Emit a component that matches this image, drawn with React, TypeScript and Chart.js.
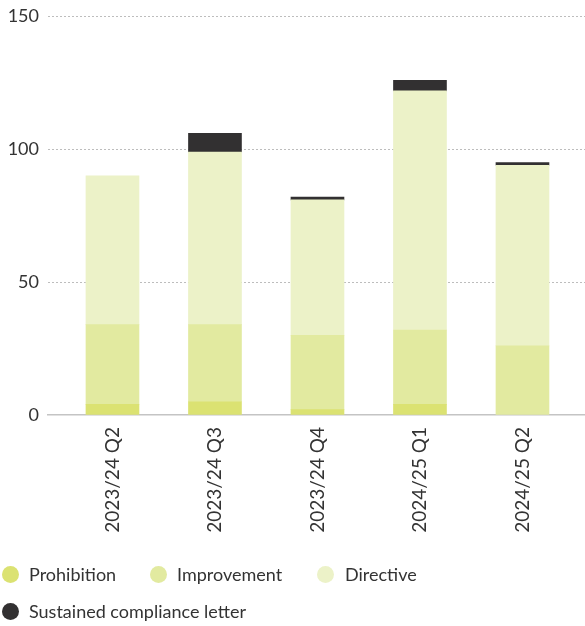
import React, { useEffect, useRef } from 'react';
import { Chart, registerables } from 'chart.js';

Chart.register(...registerables);

const categories = ['2023/24 Q2', '2023/24 Q3', '2023/24 Q4', '2024/25 Q1', '2024/25 Q2'];
const prohibition = [4, 5, 2, 4, 0];
const improvement = [30, 29, 28, 28, 26];
const directive = [56, 65, 51, 90, 68];
const sustainedLetter = [0, 7, 1, 4, 1];
const yTicks = [0, 50, 100, 150];
const seriesNames = ['Prohibition', 'Improvement', 'Directive', 'Sustained compliance letter'];
const seriesColors = ['#dbe272', '#e2eaa0', '#ecf2c8', '#323031'];

// legend layout (circle centre x, centre y, text left x)
const legendLayout = [
  [10, 574, 29],
  [158, 574, 177],
  [325.5, 574, 345],
  [10, 611, 29],
];

const FONT = 'Lato, "Open Sans", sans-serif';
const TEXT = '#333333';

export default function App() {
  const ref = useRef<HTMLCanvasElement>(null);

  useEffect(() => {
    document.body.style.margin = '0';
    const canvas = ref.current;
    if (!canvas) return;
    const series = [prohibition, improvement, directive, sustainedLetter];
    const chart = new Chart(canvas, {
      type: 'bar',
      data: {
        datasets: series.map((vals, k) => ({
          label: seriesNames[k],
          data: vals.map((v, i) => ({ x: i, y: v === 0 ? null : v })),
          backgroundColor: seriesColors[k],
          borderWidth: 0,
          barThickness: 53,
        })),
      },
      options: {
        animation: false,
        responsive: false,
        maintainAspectRatio: false,
        layout: { padding: { top: 16.5, bottom: 91, left: 0, right: 0 } },
        plugins: { legend: { display: false }, tooltip: { enabled: false } },
        scales: {
          x: {
            type: 'linear',
            stacked: true,
            offset: false,
            min: -0.629,
            max: 4.61,
            grid: { display: false, drawTicks: false, offset: false },
            border: { display: true, color: '#c4c4c4', width: 1.5 },
            afterBuildTicks: (s: any) => {
              s.ticks = categories.map((_, i) => ({ value: i }));
            },
            afterFit: (s: any) => {
              s.height = 120;
              s.paddingLeft = 0;
              s.paddingRight = 0;
            },
            ticks: {
              autoSkip: false,
              minRotation: 90,
              maxRotation: 90,
              padding: 12,
              color: TEXT,
              font: { family: FONT, size: 19 },
              callback: (v: any) => categories[v] ?? '',
            },
          },
          y: {
            stacked: true,
            min: 0,
            max: 150,
            afterBuildTicks: (s: any) => {
              s.ticks = yTicks.map((v) => ({ value: v }));
            },
            afterFit: (s: any) => {
              s.width = 48;
              s.paddingTop = 0;
              s.paddingBottom = 0;
            },
            grid: {
              color: (c: any) => (c.tick && c.tick.value === 0 ? 'rgba(0,0,0,0)' : '#bdbdbd'),
              lineWidth: 1,
              drawTicks: false,
            },
            border: { display: false, dash: [2, 2] },
            ticks: { padding: 9, color: TEXT, font: { family: FONT, size: 18 } },
          },
        },
      },
    });
    return () => chart.destroy();
  }, []);

  return (
    <div style={{ position: 'relative', width: 585, height: 626, fontFamily: FONT }}>
      <canvas ref={ref} width={585} height={626} style={{ position: 'absolute', left: 0, top: 0 }} />
      {seriesNames.map((name, k) => {
        const [cx, cy, tx] = legendLayout[k];
        return (
          <React.Fragment key={name}>
            <div
              style={{
                position: 'absolute',
                left: cx - 8.5,
                top: cy - 8.5,
                width: 17,
                height: 17,
                borderRadius: '50%',
                background: seriesColors[k],
              }}
            />
            <div
              style={{
                position: 'absolute',
                left: tx,
                top: cy - 12,
                height: 24,
                lineHeight: '24px',
                fontSize: 18,
                color: TEXT,
                whiteSpace: 'nowrap',
              }}
            >
              {name}
            </div>
          </React.Fragment>
        );
      })}
    </div>
  );
}
